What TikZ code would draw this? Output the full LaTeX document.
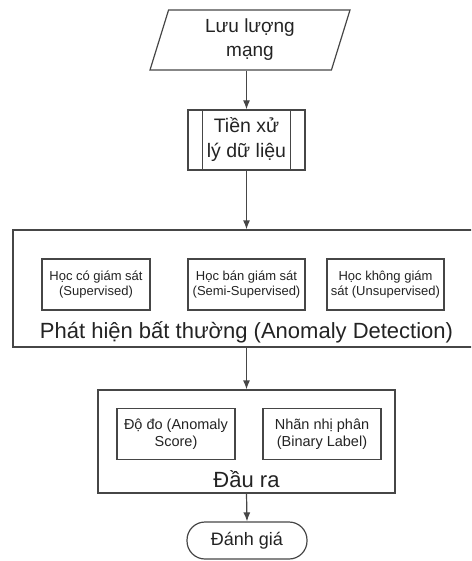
\documentclass[tikz,border=0pt]{standalone}
\usepackage{fontspec}
\setmainfont{Liberation Sans}
\usepackage{tikz}
\usetikzlibrary{positioning,shapes.geometric,arrows.meta}
\usepackage{xcolor}
\definecolor{linegray}{RGB}{70,70,70}
\definecolor{textgray}{RGB}{35,35,35}

\tikzset{
  flow/.style={draw=linegray, line width=1.2pt, align=center, inner sep=0pt, text=textgray},
  inputbox/.style={flow, trapezium, trapezium left angle=66, trapezium right angle=114,
                   trapezium stretches body, minimum width=200, minimum height=60,
                   font=\fontsize{19}{24}\selectfont},
  prepbox/.style={flow, rectangle, minimum width=117, minimum height=60,
                  font=\fontsize{19.5}{25}\selectfont},
  groupbox/.style={flow, rectangle},
  methodbox/.style={flow, rectangle, minimum height=51,
                    font=\fontsize{13}{15.5}\selectfont},
  resultbox/.style={methodbox, minimum width=118, font=\fontsize{14.5}{17}\selectfont},
  termbox/.style={flow, rectangle, rounded corners=18pt, minimum width=120, minimum height=37,
                  font=\fontsize{18}{22}\selectfont},
  grouptitle/.style={text=textgray, inner sep=0pt, font=\fontsize{22}{26}\selectfont},
  arrowline/.style={draw=linegray, line width=1.2pt, -{Latex[length=9pt,width=7pt]}}
}

\begin{document}
\begin{tikzpicture}[x=1pt, y=-1pt]
    \path[use as bounding box, clip] (0,0) rectangle (471,561);

    % luong dau vao
    \node[inputbox] (traffic) at (250,40) {Lưu lượng\\mạng};
    \node[prepbox] (prep) at (246.5,140) {Tiền xử\\lý dữ liệu};
    \draw[linegray, line width=1.2pt]
      ([xshift=15]prep.north west) -- ([xshift=15]prep.south west)
      ([xshift=-15]prep.north east) -- ([xshift=-15]prep.south east);

    % khoi phat hien
    \node[groupbox, minimum width=467, minimum height=117] (detect) at (246.5,288.5) {};
    \node[methodbox, minimum width=108] (sup) at (96,284.5) {Học có giám sát\\(Supervised)};
    \node[methodbox, minimum width=117] (semi) at (246.5,284.5) {Học bán giám sát\\(Semi-Supervised)};
    \node[methodbox, minimum width=117] (unsup) at (385.5,284.5) {Học không giám\\sát (Unsupervised)};
    \node[grouptitle] (detecttitle) at (246.5,332) {Phát hiện bất thường (Anomaly Detection)};

    % khoi dau ra
    \node[groupbox, minimum width=297, minimum height=103] (output) at (246.5,441.5) {};
    \node[resultbox] (score) at (176,434) {Độ đo (Anomaly\\Score)};
    \node[resultbox] (label) at (322,434) {Nhãn nhị phân\\(Binary Label)};
    \node[grouptitle] (outputtitle) at (246.5,479) {Đầu ra};

    \node[termbox] (eval) at (247,540.5) {Đánh giá};

    % mui ten
    \draw[arrowline] (traffic.south -| prep.north) -- (prep.north);
    \draw[arrowline] (prep.south) -- (detect.north);
    \draw[arrowline] (detect.south) -- (output.north);
    \draw[arrowline] (output.south) -- (eval.north);
  \end{tikzpicture}
\end{document}
